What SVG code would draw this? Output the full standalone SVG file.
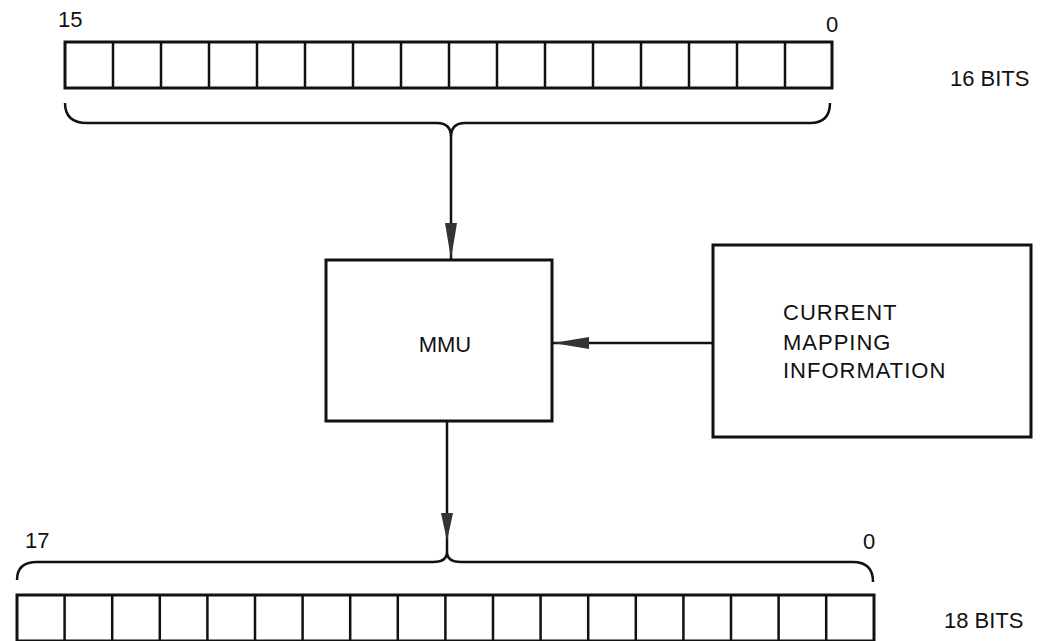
<svg xmlns="http://www.w3.org/2000/svg" width="1040" height="641" viewBox="0 0 1040 641">
<style>
.ln{fill:none;stroke:#111;stroke-width:2.5}
.bx{fill:#fff;stroke:#111;stroke-width:3}
.cell{stroke:#111;stroke-width:2.5}
.br{fill:none;stroke:#111;stroke-width:2.5}
text{font-family:"Liberation Sans",Arial,sans-serif;font-size:22px;fill:#111}
</style>
<defs>
<marker id="ah" viewBox="0 0 36 12" refX="36" refY="6" markerWidth="36" markerHeight="12" markerUnits="userSpaceOnUse" orient="auto">
<path d="M0,0 L36,6 L0,12 Z" fill="#333"/>
</marker>
</defs>
<rect width="1040" height="641" fill="#fff"/>

<g id="reg16">
<rect class="bx" x="65" y="42" width="767" height="46"/>
<path class="cell" d="M113,42V88M161,42V88M209,42V88M257,42V88M305,42V88M353,42V88M401,42V88M449,42V88M497,42V88M545,42V88M593,42V88M641,42V88M689,42V88M737,42V88M785,42V88"/>
<text x="58" y="27">15</text>
<text x="826" y="32">0</text>
<text x="950" y="86">16 BITS</text>
<path class="br" d="M65,103 Q65,123 87,123 L437,123 Q451,123 451,137 Q451,123 465,123 L810,123 Q830,123 830,103"/>
</g>

<g id="mmu">
<rect class="bx" x="326" y="260" width="226" height="161"/>
<text x="445" y="352" text-anchor="middle">MMU</text>
</g>

<g id="cmi">
<rect class="bx" x="713" y="245" width="318" height="192"/>
<text x="783" y="320" letter-spacing="1">CURRENT</text>
<text x="783" y="350" letter-spacing="1">MAPPING</text>
<text x="783" y="378" letter-spacing="1">INFORMATION</text>
</g>

<g id="reg18">
<rect class="bx" x="17" y="595" width="857" height="46"/>
<path class="cell" d="M64.6,595V641M112.2,595V641M159.8,595V641M207.4,595V641M255,595V641M302.6,595V641M350.2,595V641M397.8,595V641M445.4,595V641M493,595V641M540.6,595V641M588.2,595V641M635.8,595V641M683.4,595V641M731,595V641M778.6,595V641M826.2,595V641"/>
<text x="25" y="548">17</text>
<text x="863" y="549">0</text>
<text x="944" y="628">18 BITS</text>
<path class="br" d="M17,580 Q17,562 37,562 L433,562 Q447,562 447,552 Q447,562 461,562 L853,562 Q873,562 873,582"/>
</g>

<g id="connectors">
<path class="ln" d="M451,137 V259" marker-end="url(#ah)"/>
<path class="ln" d="M713,343 H553" marker-end="url(#ah)"/>
<path class="ln" d="M447,421 V552"/>
<path d="M441,513 L453,513 L447,541 Z" fill="#333"/>
</g>
</svg>
